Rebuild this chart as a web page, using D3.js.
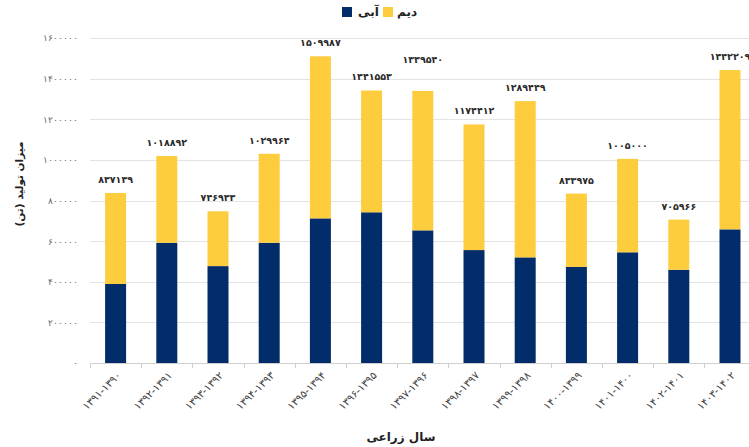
<!DOCTYPE html>
<html lang="fa">
<head>
<meta charset="utf-8">
<script src="https://cdn.jsdelivr.net/npm/d3@7"></script>
<style>
  html, body { margin: 0; padding: 0; background: #fff; }
  svg { display: block; font-family: "DejaVu Sans", "Noto Sans", sans-serif; }
</style>
</head>
<body>
<svg id="chart" width="749" height="447"></svg>
<script>
// Crop years (tick labels)
const years = [
  "۱۳۹۱-۱۳۹۰", "۱۳۹۲-۱۳۹۱", "۱۳۹۳-۱۳۹۲", "۱۳۹۴-۱۳۹۳", "۱۳۹۵-۱۳۹۴",
  "۱۳۹۶-۱۳۹۵", "۱۳۹۷-۱۳۹۶", "۱۳۹۸-۱۳۹۷", "۱۳۹۹-۱۳۹۸", "۱۴۰۰-۱۳۹۹",
  "۱۴۰۱-۱۴۰۰", "۱۴۰۲-۱۴۰۱", "۱۴۰۳-۱۴۰۲"
];
// Irrigated production (tonnes)
const irrigated = [389000, 592000, 477000, 592000, 712000, 742000, 653000, 556000, 520000, 473000, 545000, 459000, 658000];
// Total production (tonnes), as labelled above each bar
const totals = [837139, 1018892, 746933, 1029964, 1509987, 1341553, 1339540, 1174412, 1289449, 833975, 1005000, 705966, 1442209];
// Rain-fed production is the remainder of each total
const rainfed = totals.map((t, i) => t - irrigated[i]);
const yTicks = [0, 200000, 400000, 600000, 800000, 1000000, 1200000, 1400000, 1600000];

const seriesNames = { irrigated: "آبی", rainfed: "دیم" };
const colors = { irrigated: "#032c6a", rainfed: "#fdcd3e" };

const faDigits = "۰۱۲۳۴۵۶۷۸۹";
const toFa = n => String(n).replace(/\d/g, d => faDigits[+d]);

const svg = d3.select("#chart");
const plot = { left: 90, right: 755.6, top: 38, bottom: 363 };

const x = d3.scaleBand().domain(years).range([plot.left, plot.right])
  .paddingInner(0.59).paddingOuter(0.295);
const y = d3.scaleLinear().domain([0, 1600000]).range([plot.bottom, plot.top]);

// Gridlines
svg.append("g").selectAll("line").data(yTicks.slice(1)).join("line")
  .attr("x1", plot.left).attr("x2", 749)
  .attr("y1", d => Math.round(y(d)) + 0.5).attr("y2", d => Math.round(y(d)) + 0.5)
  .attr("stroke", "#e3e3e3").attr("stroke-width", 1);

// Y axis labels
const yAxis = d3.axisLeft(y).tickValues(yTicks).tickSize(0).tickPadding(0).tickFormat(toFa);
svg.append("g").attr("transform", `translate(78,0)`).call(yAxis)
  .call(g => g.select(".domain").remove())
  .call(g => g.selectAll("text").attr("fill", "#666").attr("font-size", 9));

// Stacked bars
const rows = years.map((yr, i) => ({ year: yr, irrigated: irrigated[i], rainfed: rainfed[i] }));
const stack = d3.stack().keys(["irrigated", "rainfed"])(rows);
svg.append("g").selectAll("g").data(stack).join("g")
  .attr("fill", s => colors[s.key])
  .selectAll("rect").data(s => s).join("rect")
  .attr("x", d => x(d.data.year))
  .attr("width", x.bandwidth())
  .attr("y", d => y(d[1]))
  .attr("height", d => y(d[0]) - y(d[1]));

// Baseline with category separators
const base = svg.append("g").attr("stroke", "#cfcfcf");
base.append("line").attr("x1", plot.left).attr("x2", 749)
  .attr("y1", plot.bottom + 0.5).attr("y2", plot.bottom + 0.5);
base.selectAll("line.sep").data(d3.range(years.length + 1)).join("line")
  .attr("class", "sep")
  .attr("x1", i => Math.round(plot.left + i * x.step()) + 0.5)
  .attr("x2", i => Math.round(plot.left + i * x.step()) + 0.5)
  .attr("y1", plot.bottom).attr("y2", plot.bottom + 5);

// Total labels, lifted when they sit level with the previous one
let prevY = null;
const labelY = totals.map(t => {
  let ly = y(t) - 10;
  if (prevY !== null && Math.abs(ly - prevY) < 6) ly -= 18;
  prevY = ly;
  return ly;
});
svg.append("g").selectAll("text").data(totals).join("text")
  .attr("x", (d, i) => x(years[i]) + x.bandwidth() / 2)
  .attr("y", (d, i) => labelY[i])
  .attr("text-anchor", "middle")
  .attr("font-size", 9.5).attr("font-weight", "bold").attr("fill", "#2a2a2a")
  .text(toFa);

// Rotated category labels
svg.append("g").selectAll("text").data(years).join("text")
  .attr("transform", d => `translate(${x(d) + x.bandwidth() / 2 + 6},${plot.bottom + 13}) rotate(-45)`)
  .attr("text-anchor", "end")
  .attr("font-size", 10.5).attr("fill", "#444")
  .text(d => d);

// Axis titles
svg.append("text")
  .attr("transform", `translate(23,184) rotate(-90)`)
  .attr("text-anchor", "middle").attr("direction", "rtl")
  .attr("font-size", 10.5).attr("font-weight", "bold").attr("fill", "#222")
  .text("میزان تولید (تن)");
svg.append("text")
  .attr("x", 401).attr("y", 441)
  .attr("text-anchor", "middle").attr("direction", "rtl")
  .attr("font-size", 12).attr("font-weight", "bold").attr("fill", "#222")
  .text("سال زراعی");

// Legend
const legend = svg.append("g").attr("font-size", 12).attr("font-weight", "bold").attr("fill", "#222");
const legendItems = [
  { key: "irrigated", sx: 342, tx: 358 },
  { key: "rainfed", sx: 383, tx: 397 }
];
legendItems.forEach(it => {
  legend.append("rect").attr("x", it.sx).attr("y", 7).attr("width", 10).attr("height", 10)
    .attr("fill", colors[it.key]);
  legend.append("text").attr("x", it.tx).attr("y", 16).text(seriesNames[it.key]);
});
</script>
</body>
</html>
